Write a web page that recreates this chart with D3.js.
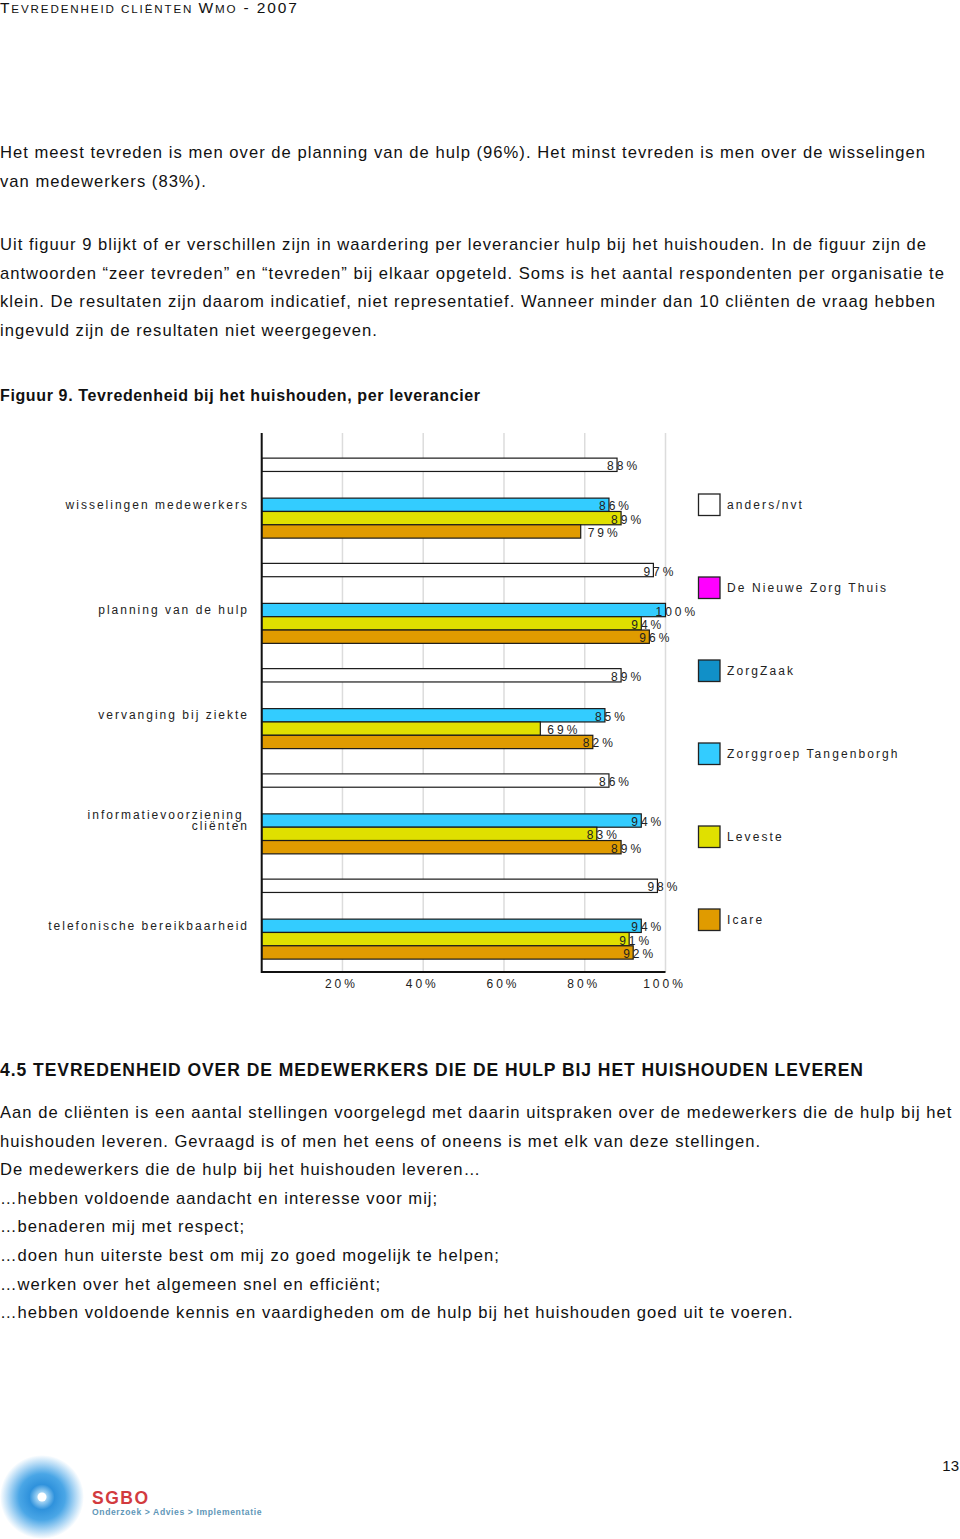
<!DOCTYPE html>
<html><head><meta charset="utf-8">
<script src="https://cdn.jsdelivr.net/npm/d3@7"></script>
<style>
html,body{margin:0;padding:0;background:#fff;}
svg{display:block;}
</style></head>
<body>
<script>
// ---------- data ----------
const categories = ["wisselingen medewerkers", "planning van de hulp", "vervanging bij ziekte", "informatievoorziening cliënten", "telefonische bereikbaarheid"];
const seriesNames = ["anders/nvt", "De Nieuwe Zorg Thuis", "ZorgZaak", "Zorggroep Tangenborgh", "Leveste", "Icare"];
const seriesColors = ["#ffffff", "#ff00ff", "#1190c8", "#33ccff", "#e0e000", "#e09b00"];
const andersNvt = [88, 97, 89, 86, 98];
const deNieuweZorgThuis = [null, null, null, null, null];
const zorgZaak = [null, null, null, null, null];
const zorggroepTangenborgh = [86, 100, 85, 94, 94];
const leveste = [89, 94, 69, 83, 91];
const icare = [79, 96, 82, 89, 92];
const xTicks = [20, 40, 60, 80, 100];

const seriesValues = [andersNvt, deNieuweZorgThuis, zorgZaak, zorggroepTangenborgh, leveste, icare];

// page texts
const para1 = ["Het meest tevreden is men over de planning van de hulp (96%). Het minst tevreden is men over de wisselingen",
  "van medewerkers (83%)."];
const para2 = ["Uit figuur 9 blijkt of er verschillen zijn in waardering per leverancier hulp bij het huishouden. In de figuur zijn de",
  "antwoorden \u201Czeer tevreden\u201D en \u201Ctevreden\u201D bij elkaar opgeteld. Soms is het aantal respondenten per organisatie te",
  "klein. De resultaten zijn daarom indicatief, niet representatief. Wanneer minder dan 10 cliënten de vraag hebben",
  "ingevuld zijn de resultaten niet weergegeven."];
const para3 = ["Aan de cliënten is een aantal stellingen voorgelegd met daarin uitspraken over de medewerkers die de hulp bij het",
  "huishouden leveren. Gevraagd is of men het eens of oneens is met elk van deze stellingen.",
  "De medewerkers die de hulp bij het huishouden leveren\u2026",
  "\u2026hebben voldoende aandacht en interesse voor mij;",
  "\u2026benaderen mij met respect;",
  "\u2026doen hun uiterste best om mij zo goed mogelijk te helpen;",
  "\u2026werken over het algemeen snel en efficiënt;",
  "\u2026hebben voldoende kennis en vaardigheden om de hulp bij het huishouden goed uit te voeren."];

const W = 960, H = 1539;
const svg = d3.select("body").append("svg").attr("width", W).attr("height", H)
  .style("font-family", "'Liberation Sans', Arial, sans-serif");

// ---------- header ----------
const hdr = svg.append("text").attr("x", 0).attr("y", 12.5).attr("fill", "#111");
const hdrParts = [["T",15.5],["EVREDENHEID CLIËNTEN ",11.6],["W",15.5],["MO",11.6],[" - 2007",15.5]];
hdrParts.forEach(([t,s]) => hdr.append("tspan").attr("font-size", s).text(t));
{ const w = hdr.node().getComputedTextLength(); hdr.attr("letter-spacing", (297 - w) / 31); }

// ---------- body text ----------
const bodyFont = 16.6;
function lines(arr, y0, step, opts = {}) {
  const g = svg.append("g");
  arr.forEach((t, i) => {
    g.append("text").attr("x", 0).attr("y", y0 + i * step)
      .attr("font-size", opts.size || bodyFont)
      .attr("font-weight", opts.bold ? "bold" : "normal")
      .attr("fill", "#111")
      .text(t);
  });
  return g;
}
const g1 = lines(para1, 158, 28.6);
const g2 = lines(para2, 250, 28.6);
const g3 = lines(para3, 1118, 28.6);
// calibrate letter spacing from first line
const probe = g1.select("text").node();
const nat = probe.getComputedTextLength();
const ls = (925 - nat) / (para1[0].length - 1);
svg.selectAll("g text").attr("letter-spacing", ls);

const fig = svg.append("text").attr("x", 0).attr("y", 401).attr("font-size", 16)
  .attr("font-weight", "bold").attr("fill", "#111").text("Figuur 9. Tevredenheid bij het huishouden, per leverancier");
{ const w = fig.node().getComputedTextLength(); fig.attr("letter-spacing", (480 - w) / 57); }
const head = svg.append("text").attr("x", 0).attr("y", 1076).attr("font-size", 17.5)
  .attr("font-weight", "bold").attr("fill", "#111").text("4.5 TEVREDENHEID OVER DE MEDEWERKERS DIE DE HULP BIJ HET HUISHOUDEN LEVEREN");
{ const w = head.node().getComputedTextLength(); head.attr("letter-spacing", (862 - w) / 73); }

// ---------- chart ----------
const x = d3.scaleLinear().domain([0, 100]).range([261.7, 665.5]);
const y0 = d3.scaleBand().domain(categories).range([445.5, 971.75]).paddingInner(0.24).paddingOuter(0.12);
const y1 = d3.scaleBand().domain(seriesNames).range([0, y0.bandwidth()]);
const color = d3.scaleOrdinal().domain(seriesNames).range(seriesColors);

const chart = svg.append("g");
// grid
chart.append("g").selectAll("line").data(xTicks).join("line")
  .attr("x1", d => x(d)).attr("x2", d => x(d)).attr("y1", 433).attr("y2", 972)
  .attr("stroke", "#dcdcdc").attr("stroke-width", 1.5);

const rows = [];
categories.forEach((c, ci) => seriesNames.forEach((s, si) => {
  const v = seriesValues[si][ci];
  if (v != null) rows.push({ c, s, v });
}));

chart.append("g").selectAll("rect").data(rows).join("rect")
  .attr("x", x(0)).attr("y", d => y0(d.c) + y1(d.s))
  .attr("width", d => x(d.v) - x(0)).attr("height", y1.bandwidth())
  .attr("fill", d => color(d.s)).attr("stroke", "#1a1a1a").attr("stroke-width", 1.2);

// value labels
chart.append("g").selectAll("text").data(rows).join("text")
  .attr("x", d => x(d.v) + (d.v < 80 ? 7 : -10))
  .attr("y", d => y0(d.c) + y1(d.s) + y1.bandwidth() / 2 + 5.5)
  .attr("font-size", 12).attr("letter-spacing", 3).attr("fill", "#222")
  .text(d => d.v + "%");

// axes lines
chart.append("line").attr("x1", x(0)).attr("x2", x(0)).attr("y1", 433).attr("y2", 973)
  .attr("stroke", "#111").attr("stroke-width", 2);
chart.append("line").attr("x1", x(0)).attr("x2", x(100)).attr("y1", 972).attr("y2", 972)
  .attr("stroke", "#111").attr("stroke-width", 2);

// tick labels
chart.append("g").selectAll("text").data(xTicks).join("text")
  .attr("x", d => x(d) - 1).attr("y", 988).attr("text-anchor", "middle")
  .attr("font-size", 12).attr("letter-spacing", 3).attr("fill", "#222")
  .text(d => d + "%");

// category labels
const catG = chart.append("g");
categories.forEach(c => {
  const cy = y0(c) + y1("Zorggroep Tangenborgh") + y1.bandwidth() / 2;
  const parts = c === "informatievoorziening cliënten" ? ["informatievoorziening ", "cliënten"] : [c];
  parts.forEach((p, i) => {
    catG.append("text").attr("x", 249).attr("text-anchor", "end")
      .attr("y", cy + 4 + (i - (parts.length - 1) / 2) * 11)
      .attr("font-size", 12).attr("letter-spacing", 2).attr("fill", "#222")
      .attr("xml:space", "preserve").style("white-space", "pre")
      .text(p);
  });
});

// legend
const ly = d3.scalePoint().domain(seriesNames).range([494, 909]);
const leg = chart.append("g");
leg.selectAll("rect").data(seriesNames).join("rect")
  .attr("x", 698.5).attr("y", d => ly(d)).attr("width", 21.5).attr("height", 21.5)
  .attr("fill", d => color(d)).attr("stroke", "#222").attr("stroke-width", 1.3);
leg.selectAll("text").data(seriesNames).join("text")
  .attr("x", 727).attr("y", d => ly(d) + 15)
  .attr("font-size", 12).attr("letter-spacing", 2.1).attr("fill", "#222")
  .text(d => d);

// ---------- footer ----------
svg.append("text").attr("x", 959).attr("y", 1471).attr("text-anchor", "end")
  .attr("font-size", 15).attr("fill", "#111").text("13");

const defs = svg.append("defs");
const rg = defs.append("radialGradient").attr("id", "glow");
[[0, "#ffffff"], [0.12, "#9fd2f4"], [0.3, "#2f92dc"], [0.55, "#4aa6e6"], [0.8, "#b0d8f5"], [1, "#ffffff"]]
  .forEach(([o, c]) => rg.append("stop").attr("offset", o).attr("stop-color", c));
svg.append("circle").attr("cx", 42).attr("cy", 1497).attr("r", 42).attr("fill", "url(#glow)");
svg.append("circle").attr("cx", 42).attr("cy", 1497).attr("r", 4.5).attr("fill", "#fff");
svg.append("text").attr("x", 92).attr("y", 1504).attr("font-size", 17.5).attr("font-weight", "bold")
  .attr("letter-spacing", 1.5).attr("fill", "#d23b3f").text("SGBO");
svg.append("text").attr("x", 92).attr("y", 1515).attr("font-size", 8.6).attr("font-weight", "bold")
  .attr("letter-spacing", 0.6).attr("fill", "#5f97b8").text("Onderzoek > Advies > Implementatie");
</script>
</body></html>
